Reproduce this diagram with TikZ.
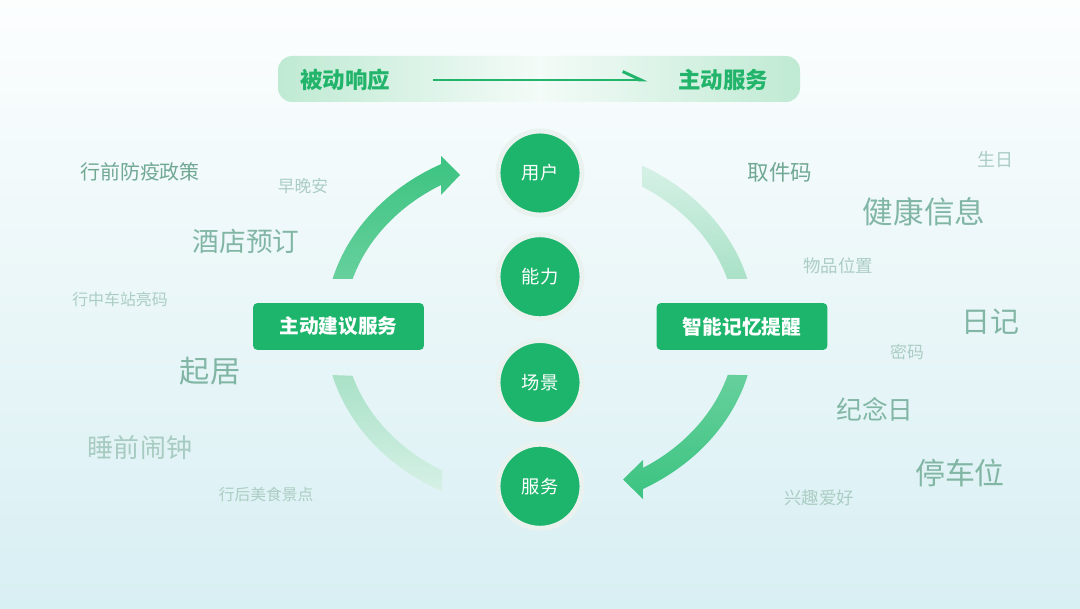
\documentclass[tikz,border=0pt]{standalone}
\usepackage{fontspec}
\newfontfamily\cjk{Noto Sans CJK SC}
\usepackage{tikz}
\usetikzlibrary{arrows.meta,shapes,positioning}

\newcommand{\fsz}[1]{\fontsize{#1}{#1}\selectfont}

\definecolor{mygreen}{HTML}{1DB56B}
\definecolor{linegreen}{HTML}{22B46A}
\definecolor{halo}{HTML}{EAF2EF}
\definecolor{bgtop}{HTML}{FCFEFE}
\definecolor{bgbot}{HTML}{D8EFF3}
\definecolor{bannerside}{HTML}{BFEAD3}
\definecolor{bannermid}{HTML}{F4FBF8}
\definecolor{tagdark}{HTML}{70A893}
\definecolor{tagmid}{HTML}{82B6A4}
\definecolor{tagpale}{HTML}{ABCDC3}
\definecolor{arrowdark}{HTML}{3CC381}
\definecolor{arrowlight}{HTML}{66D09C}
\definecolor{fadedark}{HTML}{A9E1C7}
\definecolor{fadelight}{HTML}{D6F1E6}

\tikzset{
	circ/.style={circle,fill=mygreen,draw=halo,line width=3.5pt,minimum size=2.1cm,inner sep=0pt,text=white,font=\cjk\fsz{13pt}},
	servbox/.style={rectangle,rounded corners=3pt,fill=mygreen,minimum width=4.27cm,minimum height=1.17cm,inner sep=0pt,text=white,font=\cjk\bfseries\fsz{14pt}},
	tag/.style={inner sep=0pt,font=\cjk},
	headline/.style={inner sep=0pt,text=linegreen,font=\cjk\bfseries\fsz{16pt}}
}

\begin{document}
\begin{tikzpicture}[x=0.025cm,y=0.025cm]

	% background and banner
	\shade[top color=bgtop,bottom color=bgbot] (0,0) rectangle (1080,608);
	\shade[left color=bannerside,right color=bannerside,middle color=bannermid,rounded corners=10pt] (278,506) rectangle (800,552);

	\node[headline] (passive) at (345,528) {被动响应};
	\node[headline] (active) at (723,528) {主动服务};
	\draw[linegreen,line width=2.1pt,shorten <=1.07cm,shorten >=0.75cm,-{Straight Barb[harpoon,length=13pt,width=12pt]}] (passive) -- (active);

	% the four arcs
	\shade[top color=arrowdark,bottom color=arrowlight] (332.6,329.1) arc[start angle=164.7,end angle=117.4,x radius=215,y radius=184]
		-- (441,452) -- (460,433) -- (441,413) -- (441.1,423) arc[start angle=120.3,end angle=162.9,x radius=196,y radius=165] -- cycle;
	\shade[top color=fadelight,bottom color=fadedark] (641.9,442.5) arc[start angle=61.7,end angle=15.3,x radius=215,y radius=184]
		-- (727.3,329.0) arc[start angle=17.1,end angle=58.6,x radius=196,y radius=165] -- cycle;
	\shade[top color=arrowlight,bottom color=arrowdark] (747.7,232.9) arc[start angle=-15,end angle=-61.4,x radius=215,y radius=184]
		-- (643,109) -- (623,128.5) -- (643,148) -- (643,140.1) arc[start angle=-58.3,end angle=-16.7,x radius=196,y radius=165] -- cycle;
	\shade[top color=fadedark,bottom color=fadelight] (332.3,232.9) arc[start angle=195,end angle=242.9,x radius=215,y radius=184]
		-- (442,137.6) arc[start angle=240,end angle=197,x radius=196,y radius=165] -- cycle;

	% centre column
	\node[circ] (user) at (540,435) {用户};
	\node[circ,below=0.37cm of user] (ability) {能力};
	\node[circ,below=0.42cm of ability] (scene) {场景};
	\node[circ,below=0.37cm of scene] (service) {服务};

	\node[servbox] (suggest) at (338.5,281.5) {主动建议服务};
	\node[servbox] (remind) at (742,281.5) {智能记忆提醒};

	% left words
	\node[tag,text=tagdark] (policy) at (140,436) {\fsz{14.2pt}行前防疫政策};
	\node[tag,text=tagpale] (greet) at (303,422) {\fsz{11.9pt}早晚安};
	\node[tag,text=tagmid] (hotel) at (246,367) {\fsz{19pt}酒店预订};
	\node[tag,text=tagpale] (station) at (120,309) {\fsz{11.3pt}行中车站亮码};
	\node[tag,text=tagmid] (daily) at (210,237) {\fsz{21.5pt}起居};
	\node[tag,text=tagpale!90!tagmid] (alarm) at (140,160) {\fsz{18.5pt}睡前闹钟};
	\node[tag,text=tagpale] (food) at (266,114) {\fsz{11.2pt}行后美食景点};

	% right words
	\node[tag,text=tagdark] (pickup) at (780,436) {\fsz{15.3pt}取件码};
	\node[tag,text=tagpale] (birthday) at (995,448) {\fsz{12.8pt}生日};
	\node[tag,text=tagmid] (health) at (924,396) {\fsz{21.7pt}健康信息};
	\node[tag,text=tagpale] (items) at (838,342) {\fsz{12.4pt}物品位置};
	\node[tag,text=tagmid] (diary) at (990,286) {\fsz{20.6pt}日记};
	\node[tag,text=tagpale] (password) at (907,256) {\fsz{12pt}密码};
	\node[tag,text=tagmid] (anniv) at (875,199) {\fsz{18.3pt}纪念日};
	\node[tag,text=tagmid] (parking) at (960,135) {\fsz{21.3pt}停车位};
	\node[tag,text=tagpale] (hobby) at (819,110) {\fsz{12.4pt}兴趣爱好};

\end{tikzpicture}
\end{document}
